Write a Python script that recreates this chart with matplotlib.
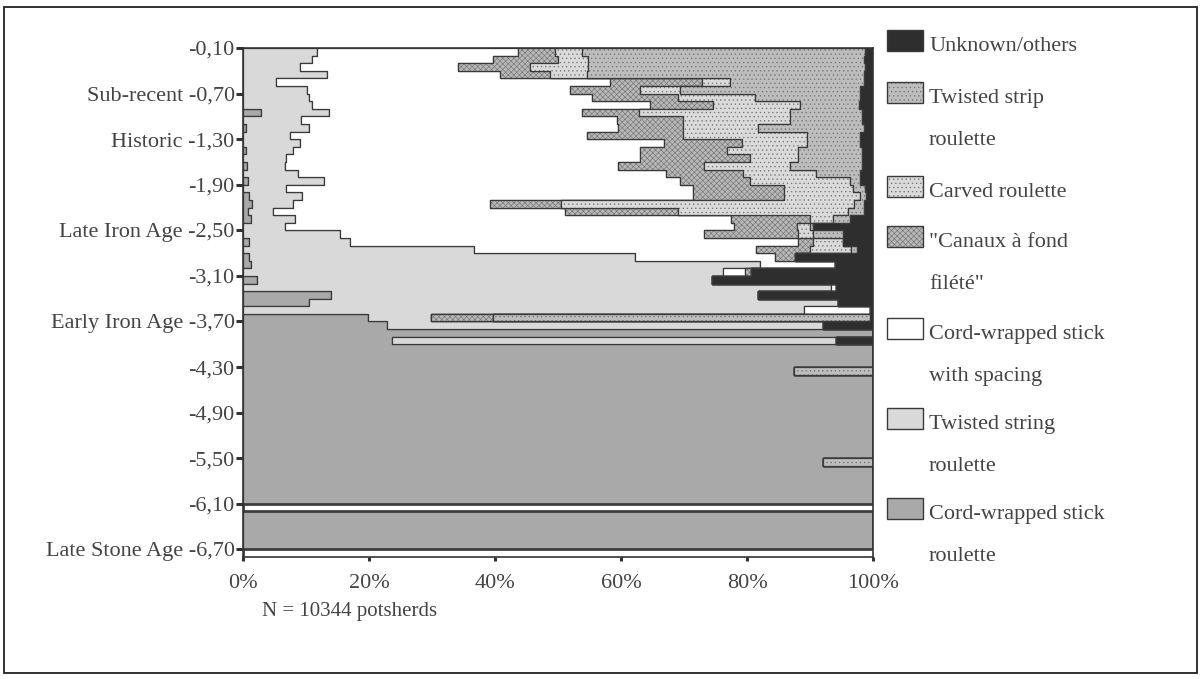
"""Potsherd decoration types by depth (100% stacked bars, 10 cm spits)."""

import matplotlib
import numpy as np

matplotlib.use("Agg")
import matplotlib.pyplot as plt
from matplotlib.patches import Rectangle

plt.rcParams["font.family"] = ["Liberation Serif", "DejaVu Serif"]
plt.rcParams["hatch.linewidth"] = 0.45

# depth of each 10 cm spit, -0,10 ... -6,70
depths = [f"-{d // 10},{d % 10}0" for d in range(1, 68)]
periods = {6: "Sub-recent", 12: "Historic", 24: "Late Iron Age",
           36: "Early Iron Age", 66: "Late Stone Age"}

# percentages per spit (rows top to bottom)
cord_wrapped = [
    0, 0, 0, 0, 0, 0, 0, 0, 2.8, 0,
    0.5, 0, 0, 0.5, 0, 0.6, 0, 0.8, 0, 1.0,
    1.5, 0.8, 1.3, 0, 0, 1.0, 0, 1.0, 1.2, 0,
    2.2, 0, 14.0, 10.4, 0, 19.9, 22.8, 100, 23.6, 100,
    100, 100, 87.4, 100, 100, 100, 100, 100, 100, 100,
    100, 100, 100, 100, 92.1, 100, 100, 100, 100, 100,
    0, 100, 100, 100, 100, 100, 0,
]
twisted_string = [
    11.8, 11.0, 9.0, 13.3, 5.3, 10.2, 10.5, 11.0, 10.9, 9.2,
    9.9, 7.5, 9.0, 7.4, 6.9, 6.1, 8.8, 12.0, 6.8, 8.3,
    6.5, 4.0, 7.0, 6.7, 15.4, 16.0, 36.6, 61.2, 80.9, 76.2,
    72.2, 93.4, 67.8, 84.1, 89.0, 10.0, 69.3, 0, 70.6, 0,
    0, 0, 0, 0, 0, 0, 0, 0, 0, 0,
    0, 0, 0, 0, 0, 0, 0, 0, 0, 0,
    0, 0, 0, 0, 0, 0, 0,
]
cw_spacing = [
    31.9, 28.7, 25.2, 27.5, 53.0, 41.7, 44.9, 53.6, 40.1, 50.1,
    49.2, 47.1, 57.9, 55.1, 56.1, 52.9, 58.4, 56.6, 64.7, 62.2,
    31.2, 46.3, 69.2, 71.3, 57.8, 71.1, 44.9, 22.2, 11.9, 3.5,
    0, 0.8, 0, 0, 10.6, 0, 0, 0, 0, 0,
    0, 0, 0, 0, 0, 0, 0, 0, 0, 0,
    0, 0, 0, 0, 0, 0, 0, 0, 0, 0,
    0, 0, 0, 0, 0, 0, 0,
]
canaux = [
    5.8, 10.3, 11.4, 7.9, 14.5, 11.1, 13.7, 10.0, 9.0, 10.6,
    10.3, 15.3, 12.3, 13.8, 17.5, 13.5, 12.2, 11.1, 14.3, 14.3,
    11.3, 18.0, 12.5, 10.0, 14.9, 2.4, 8.5, 3.2, 0, 1.0,
    0, 0, 0, 0, 0, 9.8, 0, 0, 0, 0,
    0, 0, 0, 0, 0, 0, 0, 0, 0, 0,
    0, 0, 0, 0, 0, 0, 0, 0, 0, 0,
    0, 0, 0, 0, 0, 0, 0,
]
carved = [
    4.3, 4.8, 9.2, 5.9, 4.5, 6.4, 12.2, 13.8, 24.0, 16.9,
    11.9, 19.6, 10.3, 11.3, 7.6, 13.7, 11.6, 15.8, 11.1, 12.2,
    46.5, 26.9, 3.7, 2.0, 2.4, 4.8, 6.5, 0, 0, 0,
    0, 0, 0, 0, 0, 0, 0, 0, 0, 0,
    0, 0, 0, 0, 0, 0, 0, 0, 0, 0,
    0, 0, 0, 0, 0, 0, 0, 0, 0, 0,
    0, 0, 0, 0, 0, 0, 0,
]
twisted_strip = [
    44.9, 43.7, 43.9, 43.9, 21.2, 28.6, 16.7, 9.3, 11.5, 11.5,
    16.7, 8.5, 8.5, 10.2, 10.2, 11.5, 7.0, 1.7, 1.8, 0.9,
    1.5, 2.5, 2.6, 0.5, 4.8, 0, 1.0, 0, 0, 0,
    0, 0, 0, 0, 0, 59.9, 0, 0, 0, 0,
    0, 0, 12.6, 0, 0, 0, 0, 0, 0, 0,
    0, 0, 0, 0, 7.9, 0, 0, 0, 0, 0,
    0, 0, 0, 0, 0, 0, 0,
]
unknown = [
    1.3, 1.5, 1.3, 1.5, 1.5, 2.0, 2.0, 2.3, 1.7, 1.7,
    1.5, 2.0, 2.0, 1.7, 1.7, 1.7, 2.0, 2.0, 1.3, 1.1,
    1.5, 1.5, 3.7, 9.5, 4.7, 4.7, 2.5, 12.4, 6.0, 19.3,
    25.6, 5.8, 18.2, 5.5, 0.4, 0.4, 7.9, 0, 5.8, 0,
    0, 0, 0, 0, 0, 0, 0, 0, 0, 0,
    0, 0, 0, 0, 0, 0, 0, 0, 0, 0,
    0, 0, 0, 0, 0, 0, 0,
]

series = [cord_wrapped, twisted_string, cw_spacing, canaux, carved,
          twisted_strip, unknown]
names = ["Cord-wrapped stick\nroulette", "Twisted string\nroulette",
         "Cord-wrapped stick\nwith spacing", "\"Canaux à fond\nfilété\"",
         "Carved roulette", "Twisted strip\nroulette", "Unknown/others"]
faces = ["#a9a9a9", "#d9d9d9", "#ffffff", "#b8b8b8", "#dadada", "#bdbdbd",
         "#2e2e2e"]
hatches = [None, None, None, "xxxxxx", "....", "....", None]
OUTLINE = "#3a3a3a"

W, H = 1202, 679
fig = plt.figure(figsize=(W / 100, H / 100), dpi=100)
ax = fig.add_axes([243 / W, 1 - 557 / H, 630 / W, 509 / H])

n = len(depths)
y_edges = np.arange(n + 1)
left = np.zeros(n)
for vals, fc, h in zip(series, faces, hatches):
    right = left + np.array(vals, dtype=float)
    xl = np.append(left, left[-1])
    xr = np.append(right, right[-1])
    ax.fill_betweenx(y_edges, xl, xr, step="post", facecolor=fc,
                     edgecolor="#767676", linewidth=0, hatch=h)
    ax.fill_betweenx(y_edges, xl, xr, step="post", facecolor="none",
                     edgecolor=OUTLINE, linewidth=0.9)
    left = right

ax.set_xlim(0, 100)
ax.set_ylim(n, 0)
tick_rows = list(range(0, n, 6))
ax.set_yticks(tick_rows)
ax.set_yticklabels([(periods.get(i, "") + " " + depths[i]).strip()
                    for i in tick_rows])
ax.set_xticks(range(0, 101, 20))
ax.set_xticklabels([f"{v}%" for v in range(0, 101, 20)])
ax.tick_params(axis="y", length=5, width=2.2, pad=1, labelsize=16,
               color="#333333", labelcolor="#444444")
ax.tick_params(axis="x", length=3, width=2.2, pad=9, labelsize=16,
               color="#333333", labelcolor="#444444")
for sp in ax.spines.values():
    sp.set_color("#333333")
    sp.set_linewidth(1.2)

# legend drawn to the right, first line beside each swatch
leg_tops = [30, 82, 176, 226, 318, 408, 498]
for k, idx in enumerate(range(len(series) - 1, -1, -1)):
    top = leg_tops[k]
    fig.add_artist(Rectangle((887 / W, 1 - (top + 21) / H), 36 / W, 21 / H,
                             transform=fig.transFigure, facecolor=faces[idx],
                             edgecolor="#767676", hatch=hatches[idx],
                             linewidth=0))
    fig.add_artist(Rectangle((887 / W, 1 - (top + 21) / H), 36 / W, 21 / H,
                             transform=fig.transFigure, facecolor="none",
                             edgecolor=OUTLINE, linewidth=1.0))
    for j, line in enumerate(names[idx].split("\n")):
        fig.text(929 / W, 1 - (top + 21 + 42 * j) / H, line, fontsize=16,
                 color="#444444", va="baseline", ha="left")

fig.text(262 / W, 1 - 616 / H, "N = 10344 potsherds", fontsize=15,
         color="#444444", va="baseline", ha="left")

fig.add_artist(Rectangle((4 / W, 6 / H), 1193 / W, 666 / H,
                         transform=fig.transFigure, fill=False,
                         edgecolor="#222222", linewidth=1.3))

fig.savefig("out.png", dpi=100)
plt.close(fig)
